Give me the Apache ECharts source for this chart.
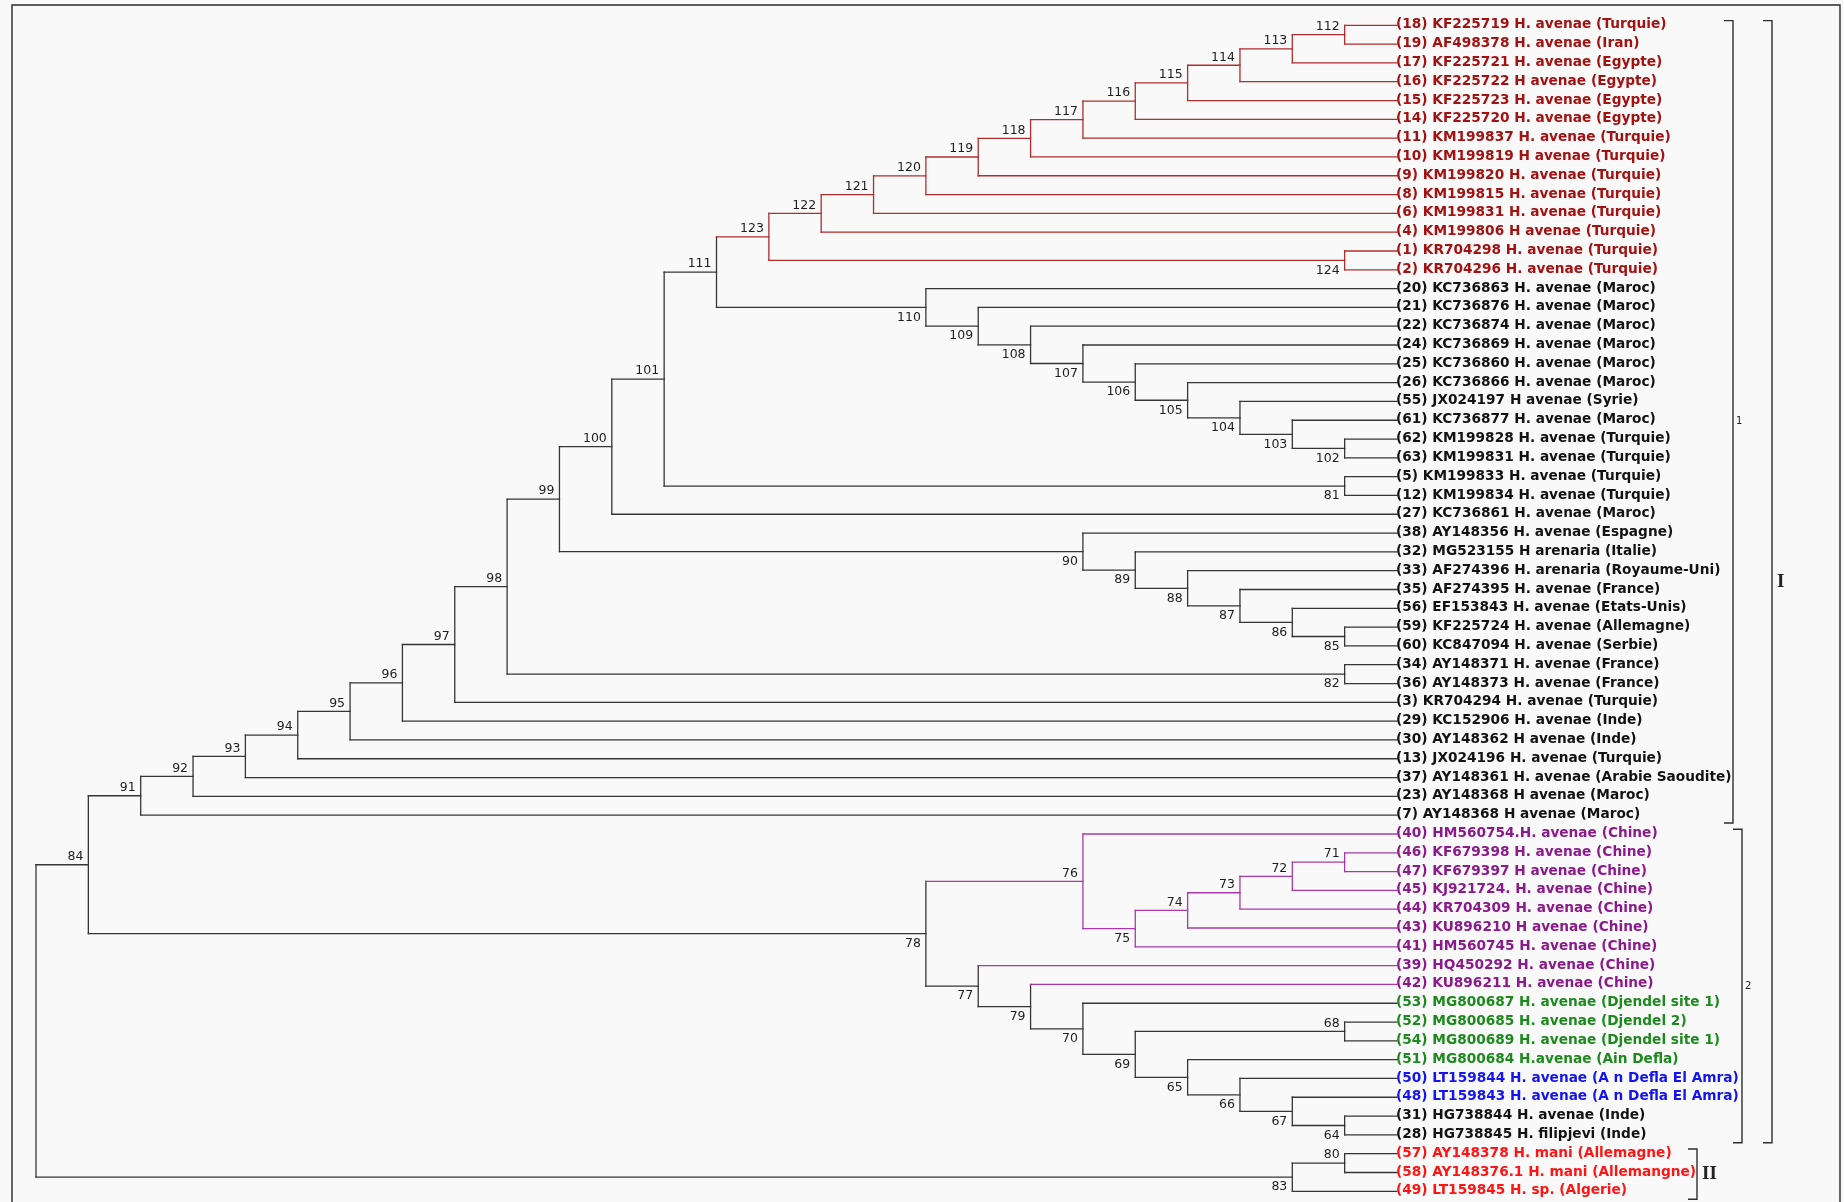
<!DOCTYPE html>
<html>
<head>
<meta charset="utf-8">
<script src="https://cdn.jsdelivr.net/npm/echarts@6/dist/echarts.min.js"></script>
<style>
  html, body { margin: 0; padding: 0; background: #f9f9f9; }
  #chart { width: 1844px; height: 1202px; }
</style>
</head>
<body>
<div id="chart"></div>
<script>
// ---- Tree topology (Newick, internal node labels after each closing parenthesis) ----
const cladeMoyenOrient = '((((((((((((18,19)112,17)113,16)114,15)115,14)116,11)117,10)118,9)119,8)120,6)121,4)122,(1,2)124)123';
const cladeMaroc = '(20,(21,(22,(24,(25,(26,(55,(61,(62,63)102)103)104)105)106)107)108)109)110';
const cladeEurope = '(38,(32,(33,(35,(56,(59,60)85)86)87)88)89)90';
const cladeChine = '(40,(((((46,47)71,45)72,44)73,43)74,41)75)76';
const cladeAlgerie = '(39,(42,(53,((52,54)68,(51,(50,(48,(31,28)64)67)66)65)69)70)79)77';
const cladeMani = '((57,58)80,49)83';
const backbone = '((((((((((((((MO,MA)111,(5,12)81)101,27)100,EU)99,(34,36)82)98,3)97,29)96,30)95,13)94,37)93,23)92,7)91,(CH,AL)78)84,MN)';

// ---- Leaves, in drawing order ----
const leafIds = [18,19,17,16,15,14,11,10,9,8,6,4,1,2,
  20,21,22,24,25,26,55,61,62,63,5,12,27,38,32,33,35,56,59,60,34,36,3,29,30,13,37,23,7,
  40,46,47,45,44,43,41,39,42,53,52,54,51,50,48,31,28,57,58,49];
const leafNames = [
  '(18) KF225719 H. avenae (Turquie)',
  '(19) AF498378 H. avenae (Iran)',
  '(17) KF225721 H. avenae (Egypte)',
  '(16) KF225722 H avenae (Egypte)',
  '(15) KF225723 H. avenae (Egypte)',
  '(14) KF225720 H. avenae (Egypte)',
  '(11) KM199837 H. avenae (Turquie)',
  '(10) KM199819 H avenae (Turquie)',
  '(9) KM199820 H. avenae (Turquie)',
  '(8) KM199815 H. avenae (Turquie)',
  '(6) KM199831 H. avenae (Turquie)',
  '(4) KM199806 H avenae (Turquie)',
  '(1) KR704298 H. avenae (Turquie)',
  '(2) KR704296 H. avenae (Turquie)',
  '(20) KC736863 H. avenae (Maroc)',
  '(21) KC736876 H. avenae (Maroc)',
  '(22) KC736874 H. avenae (Maroc)',
  '(24) KC736869 H. avenae (Maroc)',
  '(25) KC736860 H. avenae (Maroc)',
  '(26) KC736866 H. avenae (Maroc)',
  '(55) JX024197 H avenae (Syrie)',
  '(61) KC736877 H. avenae (Maroc)',
  '(62) KM199828 H. avenae (Turquie)',
  '(63) KM199831 H. avenae (Turquie)',
  '(5) KM199833 H. avenae (Turquie)',
  '(12) KM199834 H. avenae (Turquie)',
  '(27) KC736861 H. avenae (Maroc)',
  '(38) AY148356 H. avenae (Espagne)',
  '(32) MG523155 H arenaria (Italie)',
  '(33) AF274396 H. arenaria (Royaume-Uni)',
  '(35) AF274395 H. avenae (France)',
  '(56) EF153843 H. avenae (Etats-Unis)',
  '(59) KF225724 H. avenae (Allemagne)',
  '(60) KC847094 H. avenae (Serbie)',
  '(34) AY148371 H. avenae (France)',
  '(36) AY148373 H. avenae (France)',
  '(3) KR704294 H. avenae (Turquie)',
  '(29) KC152906 H. avenae (Inde)',
  '(30) AY148362 H avenae (Inde)',
  '(13) JX024196 H. avenae (Turquie)',
  '(37) AY148361 H. avenae (Arabie Saoudite)',
  '(23) AY148368 H avenae (Maroc)',
  '(7) AY148368 H avenae (Maroc)',
  '(40) HM560754.H. avenae (Chine)',
  '(46) KF679398 H. avenae (Chine)',
  '(47) KF679397 H avenae (Chine)',
  '(45) KJ921724. H. avenae (Chine)',
  '(44) KR704309 H. avenae (Chine)',
  '(43) KU896210 H avenae (Chine)',
  '(41) HM560745 H. avenae (Chine)',
  '(39) HQ450292 H. avenae (Chine)',
  '(42) KU896211 H. avenae (Chine)',
  '(53) MG800687 H. avenae (Djendel site 1)',
  '(52) MG800685 H. avenae (Djendel 2)',
  '(54) MG800689 H. avenae (Djendel site 1)',
  '(51) MG800684 H.avenae (Ain Defla)',
  '(50) LT159844 H. avenae (A n Defla El Amra)',
  '(48) LT159843 H. avenae (A n Defla El Amra)',
  '(31) HG738844 H. avenae (Inde)',
  '(28) HG738845 H. filipjevi (Inde)',
  '(57) AY148378 H. mani (Allemagne)',
  '(58) AY148376.1 H. mani (Allemangne)',
  '(49) LT159845 H. sp. (Algerie)'
];
const leafGroups = [
  'mo','mo','mo','mo','mo','mo','mo','mo','mo','mo','mo','mo','mo','mo',
  'av','av','av','av','av','av','av','av','av','av','av','av','av','av','av','av','av','av','av','av','av','av','av','av','av','av','av','av','av',
  'ch','ch','ch','ch','ch','ch','ch','ch','ch',
  'dj','dj','dj','dj','ad','ad','av','av','mn','mn','mn'
];

// ---- Group brackets ----
const bracketNames = ['1', '2', 'I', 'II'];
const bracketFirstLeaf = [18, 40, 18, 57];
const bracketLastLeaf = [7, 28, 28, 49];

// ---- Styles ----
const groupText = { mo: '#a31212', av: '#121212', ch: '#8c1a8c', dj: '#1d8a1d', ad: '#1414f0', mn: '#ff1414' };
const groupLine = { mo: '#b02e2e', ch: '#a83aa8' };
const lineBlack = '#363636';
const bracketStyle = {
  '1':  { px: 1733, font: 'normal 10px "DejaVu Sans"', dx: 3 },
  '2':  { px: 1742, font: 'normal 10px "DejaVu Sans"', dx: 3 },
  'I':  { px: 1772, font: 'bold 19px "Liberation Serif"', dx: 5 },
  'II': { px: 1697, font: 'bold 19px "Liberation Serif"', dx: 5 }
};

// ---- Parse ----
const newick = backbone.replace('MO', cladeMoyenOrient).replace('MA', cladeMaroc)
  .replace('EU', cladeEurope).replace('CH', cladeChine).replace('AL', cladeAlgerie)
  .replace('MN', cladeMani);

function parseNewick(s) {
  let i = 0;
  function readLabel() { let t = ''; while (i < s.length && /[0-9A-Za-z.]/.test(s[i])) t += s[i++]; return t; }
  function node() {
    if (s[i] === '(') {
      i++;
      const children = [node()];
      while (s[i] === ',') { i++; children.push(node()); }
      i++;
      return { label: readLabel(), children };
    }
    return { leaf: +readLabel() };
  }
  return node();
}
const root = parseNewick(newick);

// ---- Layout: rows top-down, x = tree height minus node height (cladogram) ----
const rowOfId = {};
leafIds.forEach((id, r) => { rowOfId[id] = r; });
const inner = [];
function measure(n) {
  if (n.children === undefined) {
    n.row = rowOfId[n.leaf];
    n.y = n.row;
    n.h = 0;
    n.color = groupLine[leafGroups[n.row]] || lineBlack;
    return;
  }
  n.children.forEach(measure);
  n.h = 1 + Math.max(...n.children.map(c => c.h));
  n.y = (n.children[0].y + n.children[n.children.length - 1].y) / 2;
  const cols = n.children.map(c => c.color);
  n.color = cols.every(c => c === cols[0]) ? cols[0] : lineBlack;
  inner.push(n);
}
measure(root);
const H = root.h;
function setX(n, parent, idx) {
  n.x = H - n.h;
  n.above = idx === 0;
  n.isRoot = !parent;
  if (n.children) n.children.forEach((c, k) => setX(c, n, k));
}
setX(root, null, 0);

// ---- Branch segments ----
const segBlack = [], segColored = [], segColoredCol = [];
inner.forEach(n => {
  const a = n.children[0], b = n.children[n.children.length - 1];
  const push = (x1, y1, x2, y2, c) => {
    if (c === lineBlack) segBlack.push([x1, y1, x2, y2]);
    else { segColored.push([x1, y1, x2, y2]); segColoredCol.push(c); }
  };
  push(n.x, a.y, n.x, b.y, n.color);
  n.children.forEach(c => push(n.x, c.y, c.x, c.y, c.color));
});

const nodeLabelData = inner.filter(n => !n.isRoot).map(n => [n.x, n.y, n.above ? 1 : 0, +n.label]);
const leafData = leafIds.map((id, r) => [H, r, r]);

// ---- Chart ----
const gridLeft = 36, gridRight = 447, gridTop = 25.3, gridBottom = 10.7;
const chart = echarts.init(document.getElementById('chart'), null, { renderer: 'canvas' });
const step = (1844 - gridLeft - gridRight) / H;
const bracketData = bracketNames.map((name, k) => [
  (bracketStyle[name].px - gridLeft) / step,
  rowOfId[bracketFirstLeaf[k]] - 0.25,
  rowOfId[bracketLastLeaf[k]] + 0.42,
  k
]);

function segRenderer(colors) {
  return function (params, api) {
    const p1 = api.coord([api.value(0), api.value(1)]);
    const p2 = api.coord([api.value(2), api.value(3)]);
    return {
      type: 'line',
      shape: { x1: p1[0], y1: p1[1], x2: p2[0], y2: p2[1] },
      style: { stroke: colors ? colors[params.dataIndex] : lineBlack, lineWidth: 1.3, lineCap: 'square' }
    };
  };
}

chart.setOption({
  backgroundColor: '#f9f9f9',
  animation: false,
  grid: { left: gridLeft, right: gridRight, top: gridTop, bottom: gridBottom },
  xAxis: { type: 'value', min: 0, max: H, show: false },
  yAxis: { type: 'value', min: 0, max: leafIds.length - 1, inverse: true, show: false },
  graphic: [{
    type: 'rect',
    shape: { x: 12, y: 5, width: 1828, height: 1220 },
    style: { fill: null, stroke: '#2a2a2a', lineWidth: 1.4 },
    silent: true
  }],
  series: [
    {
      type: 'custom', clip: false, silent: true,
      data: segBlack, renderItem: segRenderer(null)
    },
    {
      type: 'custom', clip: false, silent: true,
      data: segColored, renderItem: segRenderer(segColoredCol)
    },
    {
      // leaf names
      type: 'custom', clip: false, silent: true,
      data: leafData,
      renderItem: function (params, api) {
        const p = api.coord([api.value(0), api.value(1)]);
        const r = api.value(2);
        return {
          type: 'text', x: p[0] - 1, y: p[1] - 0.5,
          style: {
            text: leafNames[r], fill: groupText[leafGroups[r]],
            font: 'bold 13.7px "DejaVu Sans"', align: 'left', verticalAlign: 'middle'
          }
        };
      }
    },
    {
      // internal node numbers
      type: 'custom', clip: false, silent: true,
      data: nodeLabelData,
      renderItem: function (params, api) {
        const p = api.coord([api.value(0), api.value(1)]);
        const above = api.value(2) === 1;
        return {
          type: 'text', x: p[0] - 5, y: above ? p[1] - 8 : p[1] + 10,
          style: {
            text: String(api.value(3)), fill: '#1e1e1e',
            font: 'normal 12.5px "DejaVu Sans"', align: 'right', verticalAlign: 'middle'
          }
        };
      }
    },
    {
      // group brackets
      type: 'custom', clip: false, silent: true,
      data: bracketData,
      renderItem: function (params, api) {
        const x = api.value(0);
        const pTop = api.coord([x, api.value(1)]);
        const pBot = api.coord([x, api.value(2)]);
        const name = bracketNames[api.value(3)];
        const st = bracketStyle[name];
        const tick = 9;
        const line = { stroke: '#2e2e2e', lineWidth: 1.4 };
        return {
          type: 'group',
          children: [
            { type: 'polyline', shape: { points: [[pTop[0] - tick, pTop[1]], [pTop[0], pTop[1]], [pBot[0], pBot[1]], [pBot[0] - tick, pBot[1]]] }, style: Object.assign({ fill: null }, line) },
            { type: 'text', x: pTop[0] + st.dx, y: (pTop[1] + pBot[1]) / 2,
              style: { text: name, fill: '#222', font: st.font, align: 'left', verticalAlign: 'middle' } }
          ]
        };
      }
    }
  ]
});
</script>
</body>
</html>
